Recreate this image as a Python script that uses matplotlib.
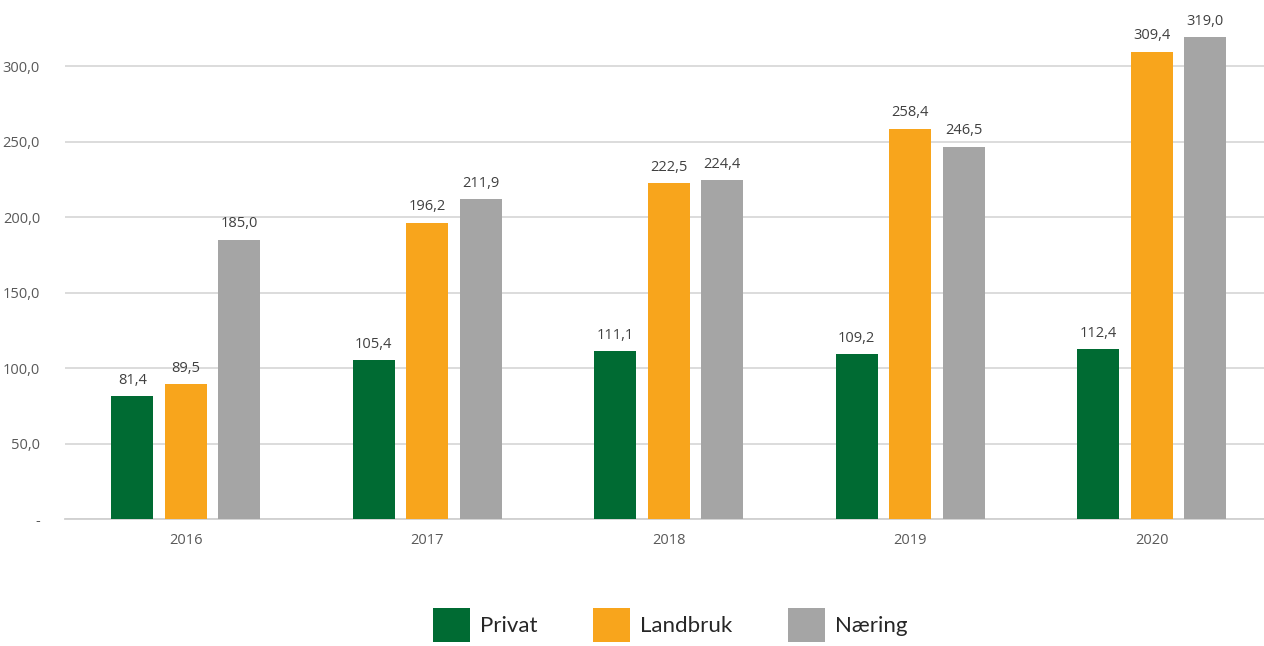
import matplotlib
matplotlib.use("Agg")
import matplotlib.pyplot as plt
import numpy as np
from matplotlib.patches import Patch

years = ["2016", "2017", "2018", "2019", "2020"]
privat = [81.4, 105.4, 111.1, 109.2, 112.4]
landbruk = [89.5, 196.2, 222.5, 258.4, 309.4]
naering = [185.0, 211.9, 224.4, 246.5, 319.0]
series_names = ["Privat", "Landbruk", "Næring"]
colors = ["#006B33", "#F8A51C", "#A5A5A5"]
y_ticks = [0, 50, 100, 150, 200, 250, 300]


def fmt(v):
    return f"{v:.1f}".replace(".", ",")


W, H = 1264, 646
fig = plt.figure(figsize=(W / 100, H / 100), dpi=100)
ax_left, ax_bottom = 65 / W, (H - 519) / H
ax = fig.add_axes([ax_left, ax_bottom, 1 - ax_left, 340 * 1.51 / H])

x = np.arange(len(years))
width = 0.174
offset = 0.2215
for i, (vals, name, c) in enumerate(zip([privat, landbruk, naering], series_names, colors)):
    pos = x + (i - 1) * offset
    bars = ax.bar(pos, vals, width, color=c, label=name, zorder=3)
    for b, v in zip(bars, vals):
        ax.annotate(fmt(v), (b.get_x() + b.get_width() / 2, v),
                    xytext=(0, 6), textcoords="offset points",
                    ha="center", va="bottom", fontsize=10.5, color="#404040",
                    family="Open Sans")

ax.set_xlim(-0.5, -0.5 + (W - 65) / 241.5)
ax.set_ylim(0, 340)
ax.set_yticks(y_ticks)
ax.set_yticklabels(["-"] + [fmt(t) for t in y_ticks[1:]])
ax.set_xticks(x)
ax.set_xticklabels(years)
ax.tick_params(length=0, labelsize=10.5, labelcolor="#595959")
ax.tick_params(axis="y", pad=18)
ax.tick_params(axis="x", pad=10)
for lab in ax.get_xticklabels() + ax.get_yticklabels():
    lab.set_family("Open Sans")

ax.yaxis.grid(True, color="#D9D9D9", linewidth=1.3, zorder=0)
for s in ["top", "right", "left"]:
    ax.spines[s].set_visible(False)
ax.spines["bottom"].set_color("#D0D0D0")
ax.spines["bottom"].set_linewidth(1.3)

handles = [Patch(facecolor=c, label=n) for c, n in zip(colors, series_names)]
leg = fig.legend(handles=handles, loc="center", bbox_to_anchor=(670 / W, (H - 625) / H),
                 ncol=3, frameon=False, handlelength=1.66, handleheight=2.0,
                 handletextpad=0.45, columnspacing=2.5,
                 prop={"family": "Lato", "size": 16})
for t in leg.get_texts():
    t.set_color("#262626")

fig.savefig("out.png", dpi=100)
